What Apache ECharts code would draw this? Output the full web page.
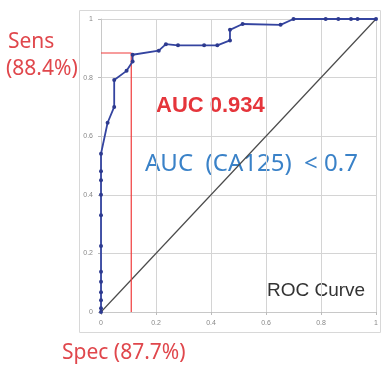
<!DOCTYPE html>
<html>
<head>
<meta charset="utf-8">
<script src="https://cdn.jsdelivr.net/npm/echarts@6/dist/echarts.min.js"></script>
<style>
  html, body { margin: 0; padding: 0; background: #fff; }
  #main { width: 382px; height: 367px; }
</style>
</head>
<body>
<div id="main"></div>
<script>
// ROC curve points (1 - specificity, sensitivity)
const fpr = [0, 0, 0, 0, 0, 0, 0, 0, 0, 0, 0, 0, 0.024, 0.048, 0.048, 0.093, 0.115, 0.115,
  0.21, 0.236, 0.28, 0.375, 0.423, 0.469, 0.469, 0.515, 0.653, 0.70, 0.817, 0.863, 0.909, 0.933, 1];
const tpr = [0, 0.013, 0.04, 0.067, 0.103, 0.137, 0.225, 0.33, 0.40, 0.45, 0.48, 0.54, 0.646, 0.70,
  0.792, 0.823, 0.855, 0.878, 0.892, 0.914, 0.91, 0.91, 0.91, 0.927, 0.963, 0.983, 0.98, 1, 1, 1, 1, 1, 1];
const cutX = 0.11;   // 1 - spec
const cutY = 0.884;  // sens
const ticks = ["0", "0.2", "0.4", "0.6", "0.8", "1"];

const chart = echarts.init(document.getElementById("main"));

const axisCommon = {
  type: "value",
  min: 0,
  max: 1,
  interval: 0.2,
  axisLine: { show: true, lineStyle: { color: "#c8c8c8" } },
  axisTick: { show: true, length: 3, lineStyle: { color: "#bbb" } },
  splitLine: { show: true, lineStyle: { color: "#d4d4d4" } },
  axisLabel: {
    color: "#888",
    fontSize: 7,
    fontFamily: "Liberation Sans",
    margin: 8,
    formatter: (v) => ticks[Math.round(v * 5)],
  },
};

const option = {
  animation: false,
  grid: { left: 101, right: 6, top: 19, bottom: 55 },
  xAxis: { ...axisCommon },
  yAxis: { ...axisCommon },
  graphic: [
    {
      type: "rect",
      shape: { x: 79.5, y: 10.5, width: 301, height: 322 },
      style: { fill: "none", stroke: "#d8d8d8", lineWidth: 1 },
      z: -1,
    },
    {
      type: "text", left: 8, top: 32,
      style: { text: "Sens", fill: "#e0474c", font: '21px "Noto Sans"' },
    },
    {
      type: "text", left: 6, top: 59,
      style: { text: "(88.4%)", fill: "#e0474c", font: '21px "Noto Sans"' },
    },
    {
      type: "text", left: 62, top: 343,
      style: { text: "Spec (87.7%)", fill: "#e0474c", font: '21px "Noto Sans"' },
    },
    {
      type: "text", left: 156, top: 95,
      style: { text: "AUC 0.934", fill: "#e5353b", font: 'bold 22px "Liberation Sans"' },
    },
    {
      type: "text", left: 145, top: 152,
      style: { text: "AUC  (CA125)  < 0.7", fill: "#3a82c8", font: '24px "Noto Sans"' },
    },
    {
      type: "text", left: 267, top: 281,
      style: { text: "ROC Curve", fill: "#333", font: '19px "Liberation Sans"' },
    },
  ],
  series: [
    {
      name: "reference",
      type: "line",
      data: [[0, 0], [1, 1]],
      showSymbol: false,
      lineStyle: { color: "#4a4a4a", width: 1.2 },
      z: 2,
    },
    {
      name: "cutoff",
      type: "line",
      data: [[0, cutY], [cutX, cutY], [cutX, 0]],
      showSymbol: false,
      lineStyle: { color: "#f03a3a", width: 1.2 },
      z: 3,
    },
    {
      name: "ROC",
      type: "line",
      data: fpr.map((x, i) => [x, tpr[i]]),
      symbol: "circle",
      symbolSize: 4,
      itemStyle: { color: "#2d3a8f" },
      lineStyle: { color: "#3444a0", width: 1.8 },
      z: 4,
    },
  ],
};

chart.setOption(option);
</script>
</body>
</html>
